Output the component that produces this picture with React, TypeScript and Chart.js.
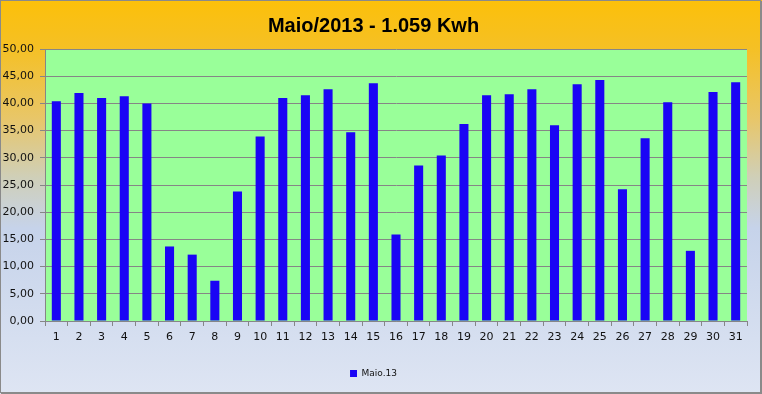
import React, { useEffect, useRef } from "react";
import { Chart, registerables } from "chart.js";

Chart.register(...registerables);

const titleText = "Maio/2013 - 1.059 Kwh";
const seriesLabel = "Maio.13";
const days = [
  "1", "2", "3", "4", "5", "6", "7", "8", "9", "10",
  "11", "12", "13", "14", "15", "16", "17", "18", "19", "20",
  "21", "22", "23", "24", "25", "26", "27", "28", "29", "30", "31",
];
const energy = [
  40.4, 41.9, 41.0, 41.3, 40.0, 13.7, 12.2, 7.4, 23.8, 33.9,
  41.0, 41.5, 42.6, 34.7, 43.7, 15.9, 28.6, 30.4, 36.2, 41.5,
  41.7, 42.6, 36.0, 43.5, 44.3, 24.2, 33.6, 40.2, 12.9, 42.1, 43.9,
];
const yMin = 0;
const yMax = 50;
const yStep = 5;

const backgroundPlugin = {
  id: "bgPlugin",
  beforeDraw(chart: any) {
    const { ctx, width, height, chartArea } = chart;
    ctx.save();
    const g = ctx.createLinearGradient(0, 0, 0, height);
    g.addColorStop(0, "#FCC00A");
    g.addColorStop(0.12, "#F5C024");
    g.addColorStop(0.3, "#E8C668");
    g.addColorStop(0.45, "#CFCFB8");
    g.addColorStop(0.58, "#C6D3EA");
    g.addColorStop(1, "#DEE5F3");
    ctx.fillStyle = g;
    ctx.fillRect(0, 0, width, height);
    ctx.fillStyle = "#99FF99";
    ctx.fillRect(chartArea.left, chartArea.top, chartArea.right - chartArea.left, chartArea.bottom - chartArea.top);
    ctx.restore();
  },
  afterDraw(chart: any) {
    const { ctx, width, height } = chart;
    ctx.save();
    ctx.strokeStyle = "#8A8A8A";
    ctx.lineWidth = 1;
    ctx.strokeRect(0.5, 0.5, width - 2, height - 2);
    ctx.fillStyle = "#8A8A8A";
    ctx.fillRect(width - 1, 1, 1, height - 1);
    ctx.fillRect(1, height - 1, width - 1, 1);
    ctx.restore();
  },
};

export default function App() {
  const ref = useRef<HTMLCanvasElement | null>(null);

  useEffect(() => {
    document.body.style.margin = "0";
    const canvas = ref.current;
    if (!canvas) return;
    const chart = new Chart(canvas, {
      type: "bar",
      data: {
        labels: days,
        datasets: [
          {
            label: seriesLabel,
            data: energy,
            backgroundColor: "#1A05F5",
            borderWidth: 0,
            barPercentage: 0.4,
            categoryPercentage: 1,
          },
        ],
      },
      options: {
        responsive: false,
        animation: false,
        devicePixelRatio: 1,
        layout: { padding: { left: 0, right: 15, top: 0, bottom: 6 } },
        plugins: {
          title: {
            display: true,
            text: titleText,
            color: "#000",
            font: { family: "Liberation Sans", size: 20, weight: "bold" },
            padding: { top: 14, bottom: 11 },
          },
          legend: {
            display: true,
            position: "bottom",
            labels: {
              boxWidth: 7,
              boxHeight: 7,
              color: "#111",
              font: { family: "DejaVu Sans", size: 9 },
              padding: 8,
            },
          },
          tooltip: { enabled: false },
        },
        scales: {
          x: {
            afterFit(scale: any) {
              scale.height = 40;
            },
            grid: {
              display: true,
              drawOnChartArea: false,
              drawTicks: true,
              tickLength: 5,
              color: "#868686",
              offset: true,
            },
            border: { display: true, color: "#868686" },
            ticks: {
              color: "#111",
              font: { family: "DejaVu Sans", size: 11 },
              padding: 5,
              maxRotation: 0,
              autoSkip: false,
            },
          },
          y: {
            min: yMin,
            max: yMax,
            afterFit(scale: any) {
              scale.width = 45;
            },
            grid: {
              color: "#868686",
              tickLength: 5,
              drawTicks: true,
            },
            border: { display: true, color: "#868686" },
            ticks: {
              stepSize: yStep,
              color: "#111",
              font: { family: "DejaVu Sans", size: 11 },
              padding: 6,
              callback: (v: any) => Number(v).toFixed(2).replace(".", ","),
            },
          },
        },
      },
      plugins: [backgroundPlugin],
    } as any);
    return () => chart.destroy();
  }, []);

  return <canvas ref={ref} width={762} height={394} style={{ display: "block", width: 762, height: 394 }} />;
}
